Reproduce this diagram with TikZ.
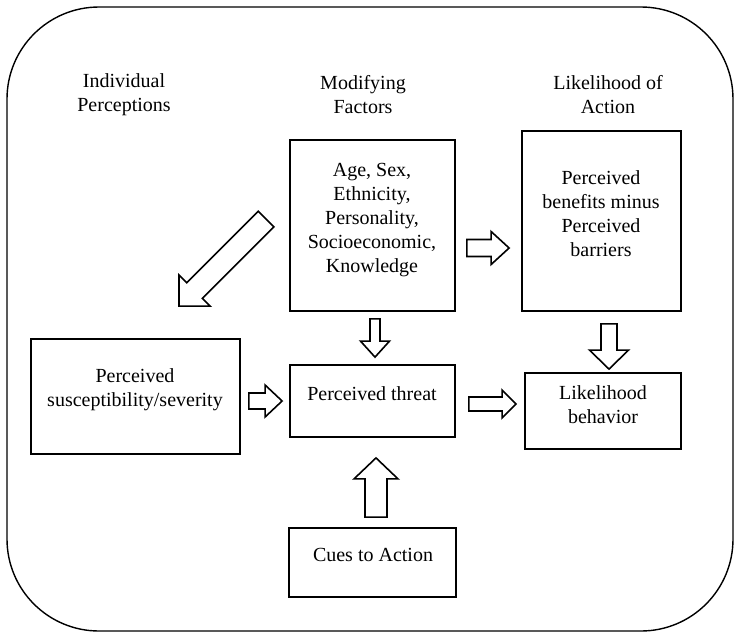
\documentclass[tikz,border=0pt]{standalone}
\usepackage{fontspec}
\setmainfont{Liberation Serif}
\usetikzlibrary{calc}
\newcommand\blockarr[5]{% start, tip, half shaft, half head, head length
  \coordinate (bah) at ($(#2)!#5!(#1)$);
  \draw[barrow] ($(#1)!#3!90:(#2)$) -- ($(bah)!#3!-90:(#1)$) -- ($(bah)!#4!-90:(#1)$) -- (#2)
    -- ($(bah)!#4!90:(#1)$) -- ($(bah)!#3!90:(#1)$) -- ($(#1)!#3!-90:(#2)$) -- cycle;
}
\begin{document}
\begin{tikzpicture}[x=1pt,y=-1pt,
  box/.style={draw, line width=1.8pt, inner sep=0pt},
  txt/.style={align=center, font=\fontsize{20}{24}\selectfont, inner sep=0pt},
  barrow/.style={draw, line width=1.6pt, fill=white, line join=miter}]
\useasboundingbox (0,0) rectangle (734,633);
\draw[line width=1.4pt, rounded corners=92pt] (7,7) rectangle (733,631);

% headers
\node[txt] (h1) at (124,95) {Individual\\Perceptions};
\node[txt] (h2) at (363,95) {Modifying\\Factors};
\node[txt] (h3) at (608,95) {Likelihood of\\Action};

% boxes
\node[box, minimum width=165pt, minimum height=171pt] (mod) at (372.5,225.5) {};
\node[box, minimum width=159pt, minimum height=180pt] (ben) at (601.5,221) {};
\node[box, minimum width=209pt, minimum height=115pt] (sus) at (135.5,396.5) {};
\node[box, minimum width=165pt, minimum height=72pt] (thr) at (372.5,401) {};
\node[box, minimum width=156pt, minimum height=76pt] (lik) at (603,411) {};
\node[box, minimum width=167pt, minimum height=69pt] (cue) at (372.5,562.5) {};

% texts
\node[txt] (modt) at (372,220) {Age, Sex,\\Ethnicity,\\Personality,\\Socioeconomic,\\Knowledge};
\node[txt] (bent) at (601,214) {Perceived\\benefits minus\\Perceived\\barriers};
\node[txt] (sust) at (135,390) {Perceived\\susceptibility/severity};
\node[txt] (thrt) at (372,394) {Perceived threat};
\node[txt] (likt) at (603,405) {Likelihood\\behavior};
\node[txt] (cuet) at (373,555) {Cues to Action};

% arrow end points
\coordinate (d1s) at ($(mod.west)+(-23,-6.5)$);
\coordinate (d1t) at ($(sus.north)+(43.5,-32)$);
\coordinate (a1s) at ($(mod.south)+(2.5,7)$);
\coordinate (a1t) at ($(thr.north)+(2.5,-7)$);
\coordinate (a2s) at ($(ben.south)+(7.5,12)$);
\coordinate (a2t) at ($(lik.north)+(6,-3)$);
\coordinate (a3s) at ($(sus.east)+(8,4.5)$);
\coordinate (a3t) at ($(thr.west)+(-7,0)$);
\coordinate (a4s) at ($(thr.east)+(13,3)$);
\coordinate (a4t) at ($(lik.west)+(-8,-7)$);
\coordinate (a5s) at ($(mod.east)+(11,22.5)$);
\coordinate (a5t) at ($(ben.west)+(-12,27)$);
\coordinate (a6s) at ($(cue.north)+(3.5,-10)$);
\coordinate (a6t) at ($(thr.south)+(3.5,20)$);

% block arrows
\blockarr{d1s}{d1t}{11pt}{22pt}{22pt}
\blockarr{a1s}{a1t}{5pt}{14.5pt}{16pt}
\blockarr{a2s}{a2t}{8pt}{19.5pt}{19pt}
\blockarr{a3s}{a3t}{8pt}{16pt}{17pt}
\blockarr{a4s}{a4t}{7pt}{14pt}{14pt}
\blockarr{a5s}{a5t}{8.5pt}{16.5pt}{18pt}
\blockarr{a6s}{a6t}{11pt}{22pt}{21pt}
\end{tikzpicture}
\end{document}
